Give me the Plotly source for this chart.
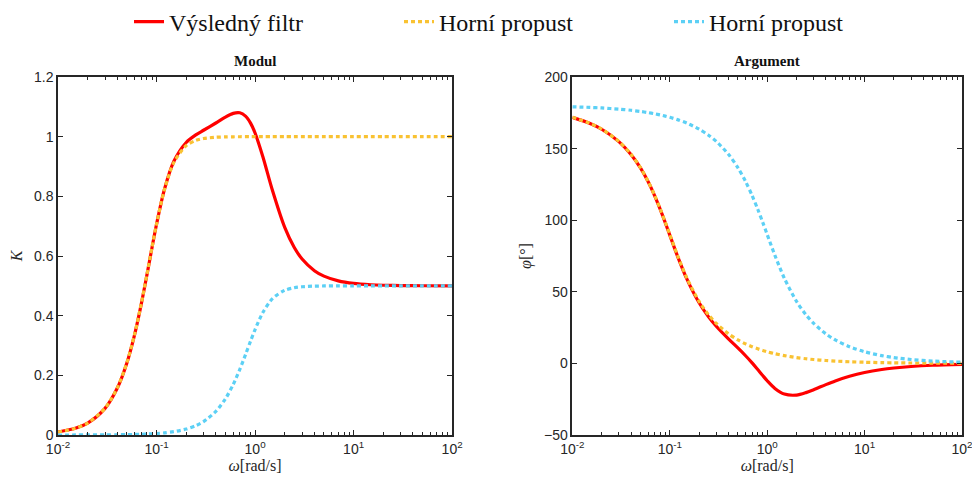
import plotly.graph_objects as go

# Frequency samples [rad/s]
omega = [0.01, 0.015, 0.02, 0.03, 0.04, 0.05, 0.06, 0.07, 0.08, 0.09, 0.1, 0.12, 0.15,
         0.2, 0.25, 0.3, 0.4, 0.5, 0.6, 0.7, 0.8, 0.9, 1.0, 1.2, 1.5, 2, 2.5, 3, 4, 5,
         7, 10, 15, 20, 30, 50, 100]

# Výsledný filtr
mag_result = [0.0100, 0.0224, 0.0398, 0.0892, 0.1573, 0.2416, 0.3375, 0.4387, 0.5377,
              0.6283, 0.7064, 0.8220, 0.9174, 0.9804, 1.0058, 1.0215, 1.0458, 1.0655,
              1.0781, 1.0800, 1.0689, 1.0454, 1.0124, 0.9329, 0.8202, 0.6958, 0.6284,
              0.5899, 0.5508, 0.5325, 0.5166, 0.5081, 0.5036, 0.5020, 0.5009, 0.5003, 0.5001]
phase_result = [171.84, 167.70, 163.51, 154.89, 145.90, 136.50, 126.80, 116.99, 107.34,
                98.13, 89.60, 74.96, 58.82, 42.31, 32.51, 25.93, 17.13, 10.78, 5.34, 0.34,
                -4.30, -8.48, -12.10, -17.45, -21.41, -22.12, -20.42, -18.35, -14.81,
                -12.24, -9.00, -6.39, -4.29, -3.23, -2.16, -1.30, -0.65]

# Horní propust 1 (žlutá)
mag_hp1 = [0.0100, 0.0225, 0.0400, 0.0896, 0.1580, 0.2425, 0.3387, 0.4400, 0.5391, 0.6294,
           0.7071, 0.8214, 0.9138, 0.9701, 0.9874, 0.9939, 0.9980, 0.9992, 0.9996, 0.9998,
           0.9999, 0.9999, 1.0000, 1.0000, 1.0000, 1.0000, 1.0000, 1.0000, 1.0000, 1.0000,
           1.0000, 1.0000, 1.0000, 1.0000, 1.0000, 1.0000, 1.0000]
phase_hp1 = [171.87, 167.76, 163.58, 155.01, 146.04, 136.69, 127.03, 117.26, 107.65, 98.49,
             90.00, 75.46, 59.49, 43.31, 33.96, 27.94, 20.66, 16.42, 13.63, 11.65, 10.18,
             9.04, 8.13, 6.77, 5.41, 4.05, 3.24, 2.70, 2.03, 1.62, 1.16, 0.81, 0.54, 0.41,
             0.27, 0.16, 0.08]

# Horní propust 2 (modrá)
mag_hp2 = [0.00005, 0.00011, 0.0002, 0.00045, 0.0008, 0.00125, 0.0018, 0.00245, 0.0032,
           0.00405, 0.0050, 0.0072, 0.01125, 0.0200, 0.0312, 0.0448, 0.0790, 0.1213, 0.1694,
           0.2200, 0.2695, 0.3147, 0.3536, 0.4107, 0.4569, 0.4851, 0.4937, 0.4969, 0.4990,
           0.4996, 0.4999, 0.5000, 0.5000, 0.5000, 0.5000, 0.5000, 0.5000]
phase_hp2 = [179.19, 178.78, 178.38, 177.57, 176.76, 175.95, 175.14, 174.33, 173.50, 172.69,
             171.87, 170.23, 167.76, 163.58, 159.34, 155.01, 146.04, 136.69, 127.03, 117.26,
             107.65, 98.49, 90.00, 75.46, 59.49, 43.31, 33.96, 27.94, 20.66, 16.42, 11.65,
             8.13, 5.41, 4.05, 2.70, 1.62, 0.81]

names = ["Výsledný filtr", "Horní propust", "Horní propust"]
colors = ["#FF0000", "#F9C232", "#5CD0F5"]

x_tickvals = [0.01, 0.1, 1, 10, 100]
x_ticktext = ["10<sup>-2</sup>", "10<sup>-1</sup>", "10<sup>0</sup>", "10<sup>1</sup>", "10<sup>2</sup>"]

AX = "#262626"
serif = "Liberation Serif, DejaVu Serif, serif"
sans = "Liberation Sans, Arial, sans-serif"

fig = go.Figure()
series = [(mag_result, phase_result), (mag_hp1, phase_hp1), (mag_hp2, phase_hp2)]
for i, (m, p) in enumerate(series):
    line = dict(color=colors[i], width=3.2, shape="spline", smoothing=0.8)
    if i > 0:
        line["dash"] = "4px,3px"
    fig.add_trace(go.Scatter(x=omega, y=m, mode="lines", name=names[i], line=line,
                             xaxis="x", yaxis="y", legendgroup=str(i)))
    fig.add_trace(go.Scatter(x=omega, y=p, mode="lines", name=names[i], line=line,
                             xaxis="x2", yaxis="y2", legendgroup=str(i), showlegend=False))

def xax(domain, anchor):
    return dict(domain=domain, anchor=anchor, type="log", range=[-2, 2],
                tickmode="array", tickvals=x_tickvals, ticktext=x_ticktext,
                ticks="inside", ticklen=5, tickwidth=1, tickcolor=AX,
                minor=dict(ticks="inside", ticklen=3, tickcolor=AX, dtick="D1", showgrid=False),
                showline=True, linecolor=AX, linewidth=1.5, mirror="ticks",
                showgrid=False, zeroline=False,
                tickfont=dict(family=sans, size=14, color=AX),
                title=dict(text="<i>ω</i>[rad/s]", font=dict(family=serif, size=16, color=AX),
                           standoff=0))

def yax(anchor, rng, dt, title, standoff):
    return dict(domain=[0, 1], anchor=anchor, range=rng, dtick=dt,
                ticks="inside", ticklen=5, tickwidth=1, tickcolor=AX,
                showline=True, linecolor=AX, linewidth=1.5, mirror="ticks",
                showgrid=False, zeroline=False,
                tickfont=dict(family=sans, size=14, color=AX),
                title=dict(text=title, font=dict(family=serif, size=16, color=AX),
                           standoff=standoff))

# The page body adds an 8 px offset, so the figure is sized to end at 980x478.
fig.update_layout(
    width=972, height=470,
    margin=dict(l=50, r=18, t=69, b=43, autoexpand=False),
    paper_bgcolor="white", plot_bgcolor="white",
    xaxis=xax([0, 0.436], "y"),
    xaxis2=xax([0.569, 1], "y2"),
    yaxis=yax("x", [0, 1.2], 0.2, "<i>K</i>", 8),
    yaxis2=yax("x2", [-50, 200], 50, "<i>φ</i>[°]", 8),
    showlegend=True,
    legend=dict(orientation="h", xref="container", yref="container",
                x=0.1245, xanchor="left", y=0.970, yanchor="middle",
                entrywidth=225, entrywidthmode="pixels", itemwidth=30,
                font=dict(family=serif, size=24, color="#111111"),
                bgcolor="rgba(0,0,0,0)"),
    annotations=[
        dict(text="<b>Modul</b>", x=0.218, y=1.0, xref="paper", yref="paper",
             xanchor="center", yanchor="bottom", yshift=6, showarrow=False,
             font=dict(family=serif, size=15, color="#111111")),
        dict(text="<b>Argument</b>", x=0.784, y=1.0, xref="paper", yref="paper",
             xanchor="center", yanchor="bottom", yshift=6, showarrow=False,
             font=dict(family=serif, size=15, color="#111111")),
    ],
)

fig.write_html("out.html")
